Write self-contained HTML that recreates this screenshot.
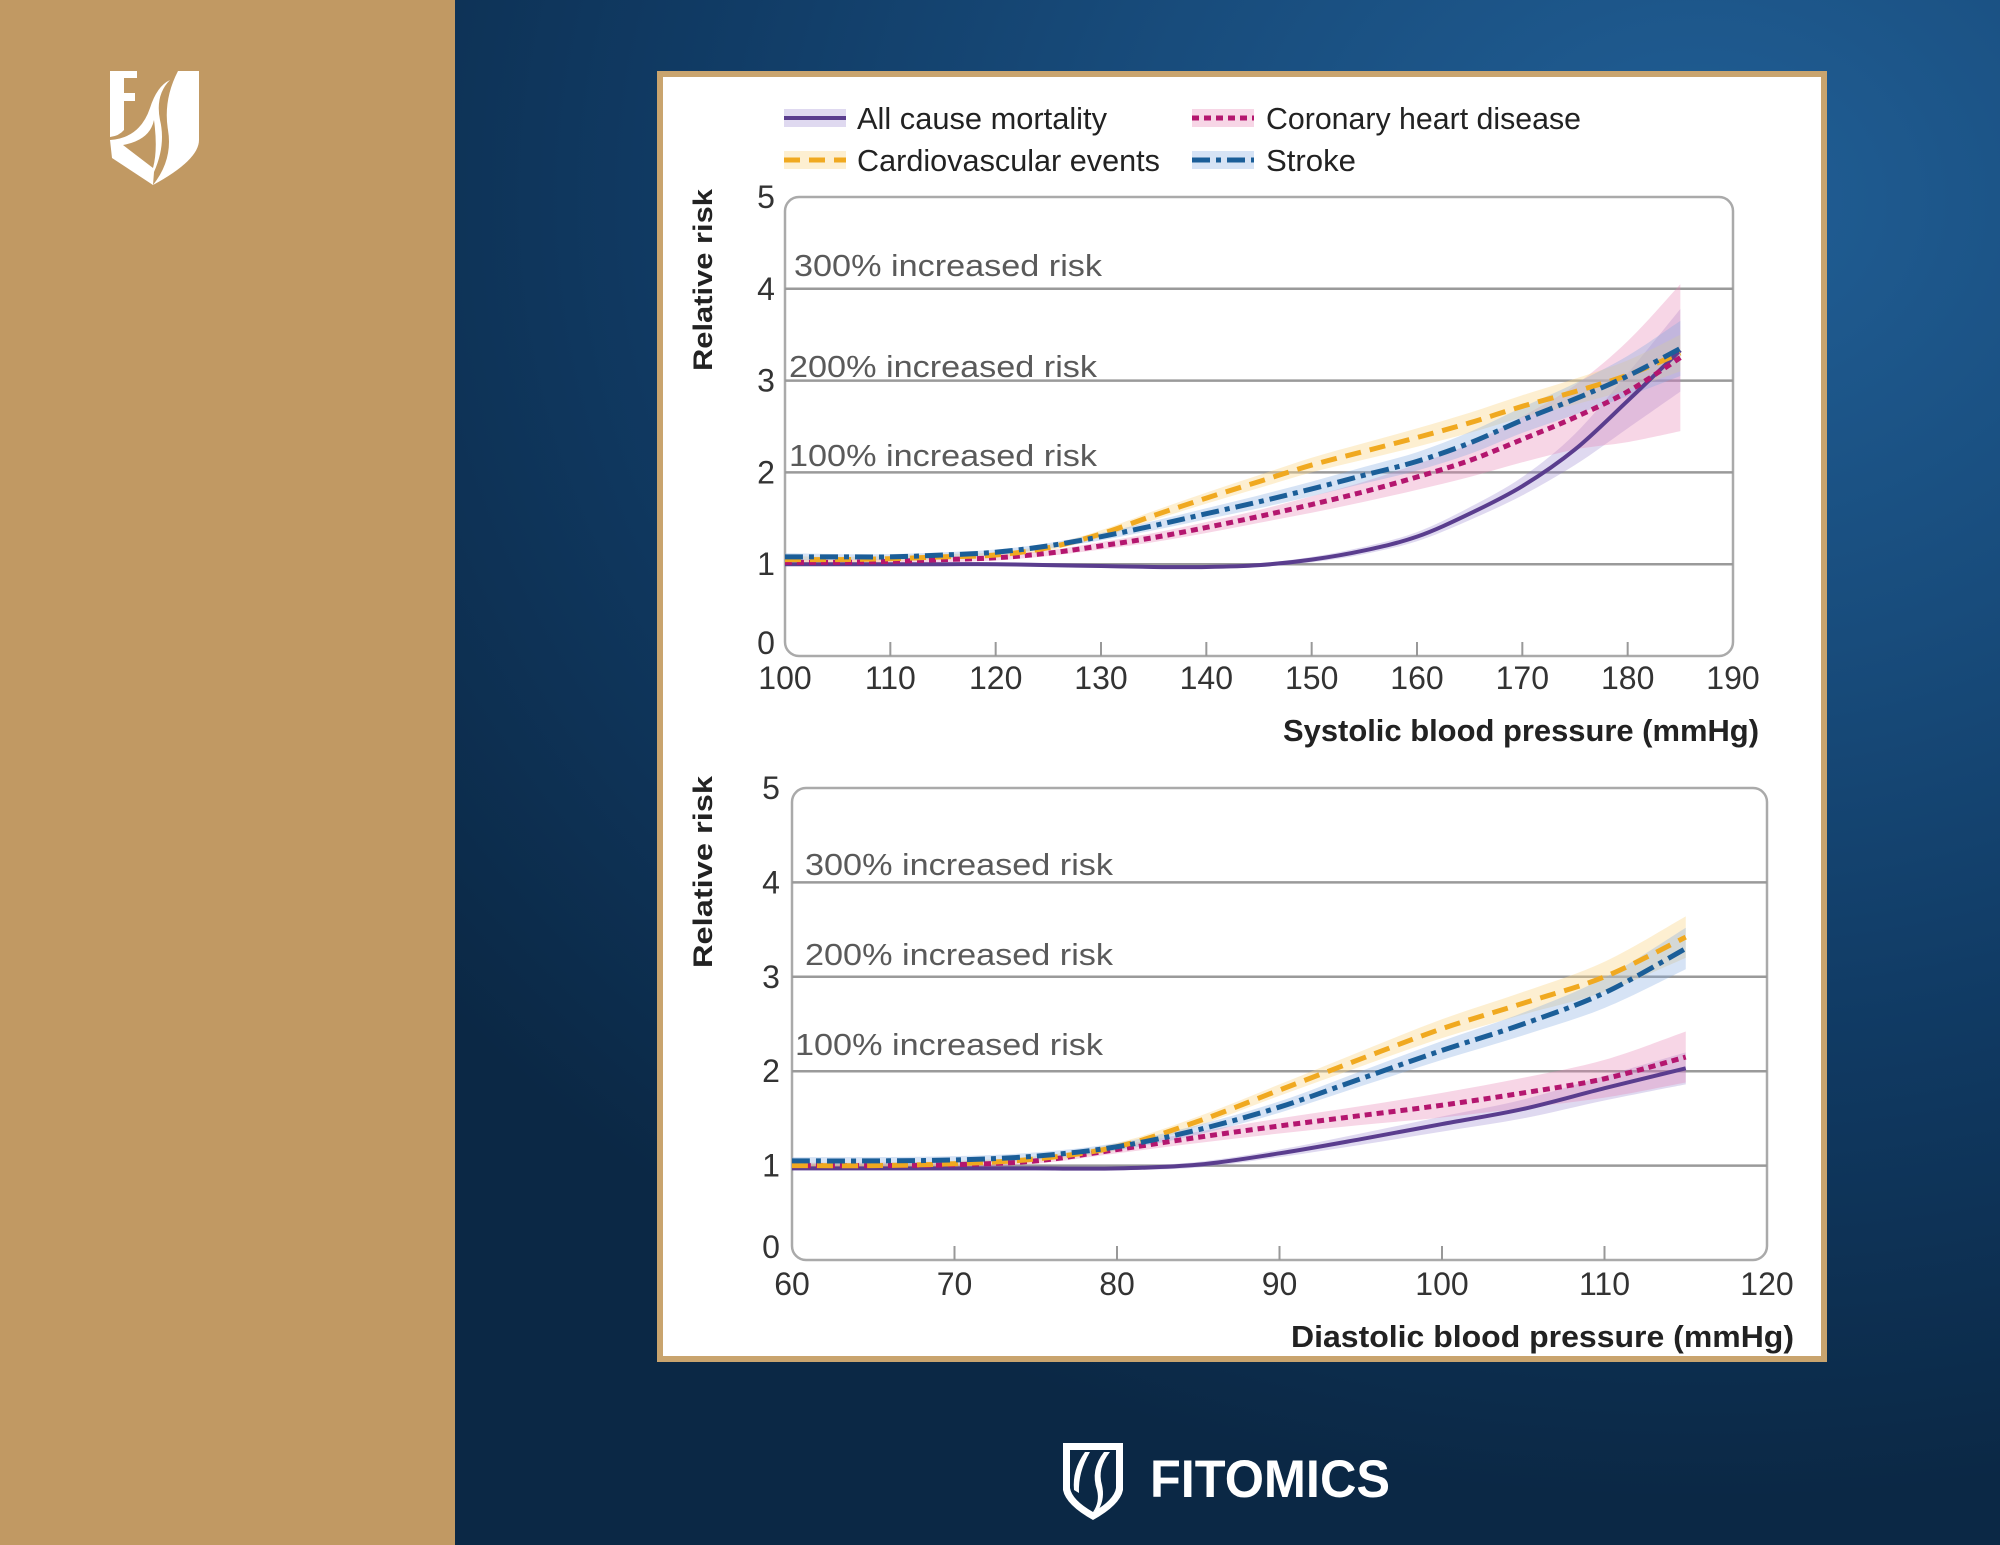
<!DOCTYPE html>
<html><head><meta charset="utf-8">
<style>
html,body{margin:0;padding:0;width:2000px;height:1545px;overflow:hidden;}
body{position:relative;font-family:"Liberation Sans",sans-serif;}
#bg{position:absolute;left:0;top:0;width:2000px;height:1545px;background:radial-gradient(ellipse 1600px 1300px at 1700px 200px,#215f96 0%,#184c7c 35%,#103a63 65%,#0b2845 100%);}
#gold{position:absolute;left:0;top:0;width:455px;height:1545px;background:#c19963;}
#card{position:absolute;left:657px;top:71px;width:1158px;height:1279px;border:6px solid #c9a46e;background:#fff;}
svg{position:absolute;left:0;top:0;}
</style></head>
<body>
<div id="bg"></div>
<div id="gold"></div>
<div id="card"></div>
<svg id="main" width="2000" height="1545" viewBox="0 0 2000 1545">
 <g fill="#fff">
  <path d="M110 71 H137 V78 H124 V93 H135 V101 H124 V130 Q119 136 110 137 Z"/>
  <path d="M110 140 Q140 138 150 108 Q157 86 170 80 Q155 95 160 120 Q166 145 154 172 L153 185 L112 158 Z" fill="#fff"/>
  <path d="M178 71 H199 V140 Q199 160 153 185 Q173 160 168 130 Q163 100 178 71 Z"/>
  <path d="M123 145 L153 168 Q158 150 154 120 Q150 140 123 145 Z" fill="#c19963"/>
 </g>
 <g fill="#fff">
  <path d="M1063 1443 H1123 V1490 Q1120 1505 1093 1520 Q1066 1505 1063 1490 Z M1070 1450 V1488 Q1072 1500 1093 1512 Q1114 1500 1116 1488 V1450 Z" fill-rule="evenodd"/>
  <path d="M1085 1452 Q1072 1470 1074 1490 L1079 1493 Q1078 1472 1090 1452 Z"/>
  <path d="M1104 1452 Q1090 1470 1097 1490 Q1100 1502 1093 1512 L1099 1509 Q1105 1498 1102 1485 Q1097 1468 1110 1452 Z"/>
 </g>
 <text x="1150" y="1497" font-size="53" font-weight="bold" fill="#fff" textLength="240" lengthAdjust="spacingAndGlyphs">FITOMICS</text>
 <g id="legend"></g>
 <g id="top"></g>
 <g id="bot"></g>
</svg>
<script>
// ---- Systolic data ----
const sysX = [100,105,110,115,120,125,130,135,140,145,150,155,160,165,170,175,180,185];
const sysAll = [1.0,1.0,1.0,1.0,1.0,0.99,0.98,0.97,0.97,0.99,1.05,1.15,1.3,1.55,1.85,2.25,2.78,3.33];
const sysAllW = [0.02,0.02,0.02,0.02,0.02,0.02,0.02,0.02,0.02,0.02,0.03,0.04,0.05,0.07,0.1,0.17,0.3,0.45];
const sysCvd = [1.05,1.05,1.06,1.08,1.1,1.18,1.33,1.53,1.72,1.9,2.08,2.23,2.38,2.54,2.72,2.88,3.06,3.3];
const sysCvdW = [0.04,0.03,0.03,0.03,0.03,0.03,0.04,0.05,0.06,0.07,0.08,0.09,0.1,0.11,0.12,0.14,0.16,0.2];
const sysStr = [1.08,1.08,1.08,1.1,1.13,1.2,1.3,1.42,1.55,1.68,1.82,1.97,2.12,2.32,2.57,2.8,3.05,3.35];
const sysStrW = [0.04,0.03,0.03,0.03,0.03,0.03,0.04,0.05,0.06,0.07,0.08,0.09,0.1,0.12,0.14,0.17,0.22,0.3];
const sysChd = [1.02,1.02,1.03,1.05,1.07,1.12,1.2,1.29,1.4,1.52,1.65,1.79,1.95,2.13,2.36,2.6,2.88,3.25];
const sysChdW = [0.03,0.03,0.03,0.03,0.03,0.03,0.04,0.05,0.06,0.07,0.09,0.11,0.14,0.18,0.25,0.35,0.55,0.8];
const sysTicks = [100,110,120,130,140,150,160,170,180,190];
// ---- Diastolic data ----
const diaX = [60,65,70,75,80,85,90,95,100,105,110,115];
const diaAll = [0.97,0.97,0.97,0.97,0.97,1.01,1.13,1.28,1.44,1.6,1.82,2.03];
const diaAllW = [0.02,0.02,0.02,0.02,0.02,0.03,0.04,0.06,0.08,0.1,0.13,0.17];
const diaChd = [1.0,1.0,1.01,1.05,1.17,1.3,1.42,1.53,1.64,1.77,1.92,2.15];
const diaChdW = [0.03,0.03,0.03,0.03,0.04,0.06,0.08,0.1,0.13,0.16,0.2,0.27];
const diaCvd = [1.0,1.0,1.02,1.07,1.2,1.47,1.8,2.13,2.45,2.72,3.0,3.42];
const diaCvdW = [0.03,0.03,0.03,0.03,0.04,0.05,0.06,0.08,0.1,0.12,0.16,0.22];
const diaStr = [1.05,1.05,1.06,1.1,1.2,1.38,1.62,1.92,2.22,2.5,2.83,3.3];
const diaStrW = [0.04,0.04,0.04,0.04,0.04,0.05,0.06,0.08,0.1,0.12,0.16,0.22];
const diaTicks = [60,70,80,90,100,110,120];
const yTicks = [0,1,2,3,4,5];
const riskLevels = [4,3,2];
const riskLabels = ["300% increased risk","200% increased risk","100% increased risk"];

const NS="http://www.w3.org/2000/svg";
function mk(tag,attrs,parent){const e=document.createElementNS(NS,tag);for(const k in attrs)e.setAttribute(k,attrs[k]);parent.appendChild(e);return e;}
const styles={
 all:{c:"#5a3d8e",band:"rgba(140,120,200,0.28)",dash:"none",w:4},
 chd:{c:"#b4166f",band:"rgba(232,130,178,0.33)",dash:"7,5",w:5},
 cvd:{c:"#f0a920",band:"rgba(251,214,140,0.4)",dash:"16,9",w:5},
 str:{c:"#1b5e98",band:"rgba(130,170,225,0.33)",dash:"18,6,5,6",w:5}
};
function smooth(pts){let d="M"+pts[0][0]+" "+pts[0][1];for(let i=0;i<pts.length-1;i++){const p0=pts[Math.max(i-1,0)],p1=pts[i],p2=pts[i+1],p3=pts[Math.min(i+2,pts.length-1)];const c1=[p1[0]+(p2[0]-p0[0])/6,p1[1]+(p2[1]-p0[1])/6],c2=[p2[0]-(p3[0]-p1[0])/6,p2[1]-(p3[1]-p1[1])/6];d+=" C"+c1[0]+" "+c1[1]+" "+c2[0]+" "+c2[1]+" "+p2[0]+" "+p2[1];}return d;}

function chart(g,cfg){
 const sx=v=>cfg.x0+(v-cfg.xmin)/(cfg.xmax-cfg.xmin)*(cfg.x1-cfg.x0);
 const sy=v=>cfg.y0+(v)/5*(cfg.y5-cfg.y0);
 const box=mk("rect",{x:cfg.x0,y:cfg.y5,width:cfg.x1-cfg.x0,height:cfg.y0-cfg.y5,rx:14,fill:"none",stroke:"#aaa","stroke-width":2.5},g);
 
 
 riskLevels.forEach((lv,i)=>{
  const l=mk("line",{x1:cfg.x0,x2:cfg.x1,y1:sy(lv),y2:sy(lv),stroke:"#9a9a9a","stroke-width":2.5},g);
  
  
 });
 const gl=mk("line",{x1:cfg.x0,x2:cfg.x1,y1:sy(1),y2:sy(1),stroke:"#9a9a9a","stroke-width":2.5},g);
 
 
 riskLabels.forEach((t,i)=>{
  const e=mk("text",{x:cfg.annX[i],y:cfg.annY[i],"font-size":31,fill:"#5a5a5a",textLength:308,lengthAdjust:"spacingAndGlyphs"},g);
  e.textContent=t;
  
  
 });
 yTicks.forEach(v=>{
  const e=mk("text",{x:cfg.ylx,y:sy(v)+(v===0?-2:11),"font-size":32,fill:"#333","text-anchor":"middle"},g);
  e.textContent=v;
  
  
 });
 cfg.ticks.forEach((v,i)=>{
  if(i>0&&i<cfg.ticks.length-1){const t=mk("line",{x1:sx(v),x2:sx(v),y1:cfg.y0,y2:cfg.y0-14,stroke:"#999","stroke-width":2},g);
  
  }
  const e=mk("text",{x:sx(v),y:cfg.xly,"font-size":32,fill:"#333","text-anchor":"middle"},g);
  e.textContent=v;
  
  
 });
 const yt=mk("text",{x:0,y:0,"font-size":27,"font-weight":"bold",fill:"#222","text-anchor":"middle",transform:"translate("+(cfg.ytX)+","+cfg.ytY+") rotate(-90)",textLength:cfg.ytLen,lengthAdjust:"spacingAndGlyphs"},g);
 yt.textContent="Relative risk";
 
 
 const xt=mk("text",{x:cfg.xtX,y:cfg.xtY,"font-size":31,"font-weight":"bold",fill:"#222",textLength:cfg.xtLen,lengthAdjust:"spacingAndGlyphs"},g);
 xt.textContent=cfg.xtitle;
 
 
 cfg.series.forEach(s=>{
  const st=styles[s.k];
  const up=cfg.xs.map((x,i)=>[sx(x),sy(s.v[i]+s.w[i])]);
  const lo=cfg.xs.map((x,i)=>[sx(x),sy(s.v[i]-s.w[i])]).reverse();
  const b=mk("path",{d:smooth(up)+" L"+smooth(lo).slice(1)+" Z",fill:st.band,stroke:"none"},g);
  
  
 });
 cfg.series.forEach(s=>{
  const st=styles[s.k];
  const pts=cfg.xs.map((x,i)=>[sx(x),sy(s.v[i])]);
  const p=mk("path",{d:smooth(pts),fill:"none",stroke:st.c,"stroke-width":st.w,"stroke-dasharray":st.dash,"stroke-linecap":"butt"},g);
  
  
 });
}
chart(document.getElementById("top"),{x0:785,x1:1733,xmin:100,xmax:190,y0:656,y5:197,xs:sysX,ticks:sysTicks,
 series:[{k:"all",v:sysAll,w:sysAllW},{k:"chd",v:sysChd,w:sysChdW},{k:"cvd",v:sysCvd,w:sysCvdW},{k:"str",v:sysStr,w:sysStrW}],
 annX:[794,789,789],annY:[276,377,466],ylx:766,xly:689,ytX:712,ytY:280,ytLen:182,xtX:1283,xtY:741,xtLen:476,xtitle:"Systolic blood pressure (mmHg)"});
chart(document.getElementById("bot"),{x0:792,x1:1767,xmin:60,xmax:120,y0:1260,y5:788,xs:diaX,ticks:diaTicks,
 series:[{k:"all",v:diaAll,w:diaAllW},{k:"chd",v:diaChd,w:diaChdW},{k:"cvd",v:diaCvd,w:diaCvdW},{k:"str",v:diaStr,w:diaStrW}],
 annX:[805,805,795],annY:[875,965,1055],ylx:771,xly:1295,ytX:712,ytY:872,ytLen:192,xtX:1291,xtY:1347,xtLen:503,xtitle:"Diastolic blood pressure (mmHg)"});
const lg=document.getElementById("legend");
const legendItems=[["all","All cause mortality",784,857,117,250],["chd","Coronary heart disease",1192,1266,117,315],["cvd","Cardiovascular events",784,857,159,303],["str","Stroke",1192,1266,159,90]];
legendItems.forEach(it=>{
 const st=styles[it[0]];
 const b=mk("rect",{x:it[2],y:it[4]-8,width:62,height:18,fill:st.band},lg);
 
 
 const l=mk("line",{x1:it[2],x2:it[2]+62,y1:it[4]+1,y2:it[4]+1,stroke:st.c,"stroke-width":st.w,"stroke-dasharray":st.dash},lg);
 
 
 const t=mk("text",{x:it[3],y:it[4]+12,"font-size":31,fill:"#222",textLength:it[5],lengthAdjust:"spacingAndGlyphs"},lg);
 t.textContent=it[1];
 
 
});
</script>
</body></html>
